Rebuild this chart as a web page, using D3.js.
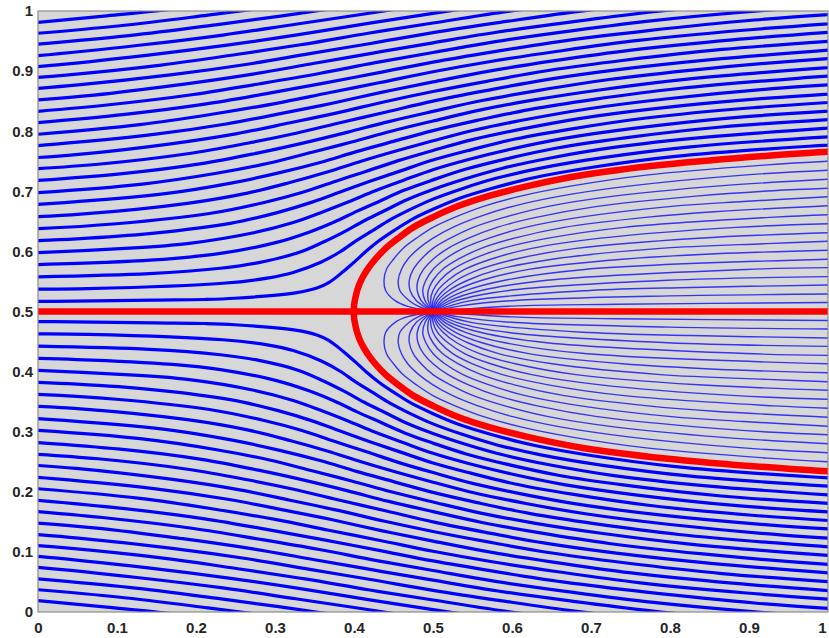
<!DOCTYPE html>
<html>
<head>
<meta charset="utf-8">
<script src="https://cdnjs.cloudflare.com/ajax/libs/d3/7.8.5/d3.min.js"></script>
<style>
body { margin: 0; background: #fff; }
.tick text { font-family: "Liberation Sans", Arial, sans-serif; font-weight: bold; font-size: 15px; fill: #262626; }
</style>
</head>
<body>
<div id="chart"></div>
<script>
// tick values and labels
var xTicks = [0, 0.1, 0.2, 0.3, 0.4, 0.5, 0.6, 0.7, 0.8, 0.9, 1];
var xTickLabels = ["0", "0.1", "0.2", "0.3", "0.4", "0.5", "0.6", "0.7", "0.8", "0.9", "1"];
var yTicks = [0, 0.1, 0.2, 0.3, 0.4, 0.5, 0.6, 0.7, 0.8, 0.9, 1];
var yTickLabels = ["0", "0.1", "0.2", "0.3", "0.4", "0.5", "0.6", "0.7", "0.8", "0.9", "1"];

// outer streamlines above y=0.5 as [x, y] points
// (the lower half of the figure is the mirror image about y=0.5)
var outerLines = [
  [[-0.065,0.974],[0.017,0.983],[0.087,0.992],[0.150,1.000],[0.206,1.009]],
  [[-0.046,0.958],[0.101,0.975],[0.215,0.993],[0.314,1.010]],
  [[-0.026,0.942],[0.115,0.959],[0.225,0.977],[0.320,0.994],[0.410,1.011]],
  [[-0.095,0.917],[-0.007,0.925],[0.128,0.943],[0.234,0.960],[0.326,0.978],[0.413,0.995],[0.500,1.013]],
  [[-0.178,0.892],[0.013,0.909],[0.142,0.927],[0.244,0.944],[0.332,0.961],[0.416,0.979],[0.500,0.996],[0.591,1.014]],
  [[-0.150,0.875],[0.032,0.893],[0.156,0.910],[0.253,0.928],[0.338,0.945],[0.418,0.963],[0.500,0.980],[0.588,0.998],[0.687,1.015]],
  [[-0.122,0.859],[0.051,0.877],[0.170,0.894],[0.263,0.911],[0.344,0.929],[0.421,0.946],[0.500,0.964],[0.585,0.981],[0.682,0.999],[0.798,1.016]],
  [[-0.094,0.843],[0.071,0.860],[0.183,0.878],[0.272,0.895],[0.350,0.913],[0.424,0.930],[0.500,0.947],[0.582,0.965],[0.676,0.982],[0.789,1.000],[0.934,1.017]],
  [[-0.065,0.826],[0.090,0.844],[0.197,0.861],[0.281,0.879],[0.356,0.896],[0.427,0.914],[0.500,0.931],[0.579,0.949],[0.670,0.966],[0.779,0.984],[0.920,1.001],[1.118,1.018]],
  [[-0.037,0.810],[0.110,0.828],[0.211,0.845],[0.291,0.863],[0.362,0.880],[0.430,0.897],[0.500,0.915],[0.576,0.932],[0.664,0.950],[0.770,0.967],[0.907,0.985],[1.098,1.002]],
  [[-0.111,0.785],[-0.009,0.794],[0.129,0.811],[0.224,0.829],[0.300,0.846],[0.368,0.864],[0.433,0.881],[0.500,0.899],[0.573,0.916],[0.658,0.933],[0.760,0.951],[0.893,0.968],[1.079,0.986]],
  [[-0.076,0.769],[0.019,0.778],[0.149,0.795],[0.238,0.812],[0.310,0.830],[0.374,0.847],[0.436,0.865],[0.500,0.882],[0.571,0.900],[0.652,0.917],[0.751,0.935],[0.879,0.952],[1.060,0.970]],
  [[-0.041,0.753],[0.048,0.761],[0.168,0.779],[0.252,0.796],[0.319,0.814],[0.380,0.831],[0.439,0.849],[0.500,0.866],[0.568,0.883],[0.646,0.901],[0.742,0.918],[0.866,0.936],[1.040,0.953]],
  [[-0.125,0.728],[0.076,0.745],[0.187,0.762],[0.265,0.780],[0.328,0.797],[0.385,0.815],[0.441,0.832],[0.500,0.850],[0.565,0.867],[0.640,0.885],[0.732,0.902],[0.852,0.919],[1.021,0.937]],
  [[-0.080,0.711],[0.104,0.729],[0.207,0.746],[0.279,0.764],[0.338,0.781],[0.391,0.798],[0.444,0.816],[0.500,0.833],[0.562,0.851],[0.634,0.868],[0.723,0.886],[0.838,0.903],[1.001,0.921],[1.113,0.929]],
  [[-0.195,0.686],[-0.035,0.695],[0.132,0.712],[0.226,0.730],[0.293,0.747],[0.347,0.765],[0.397,0.782],[0.447,0.800],[0.500,0.817],[0.559,0.835],[0.628,0.852],[0.713,0.869],[0.825,0.887],[0.982,0.904],[1.090,0.913]],
  [[-0.134,0.670],[0.009,0.679],[0.161,0.696],[0.246,0.714],[0.306,0.731],[0.357,0.748],[0.403,0.766],[0.450,0.783],[0.500,0.801],[0.556,0.818],[0.622,0.836],[0.704,0.853],[0.811,0.871],[0.962,0.888],[1.067,0.897]],
  [[-0.073,0.654],[0.054,0.662],[0.189,0.680],[0.265,0.697],[0.320,0.715],[0.366,0.732],[0.409,0.750],[0.453,0.767],[0.500,0.784],[0.553,0.802],[0.616,0.819],[0.695,0.837],[0.797,0.854],[0.943,0.872],[1.043,0.880]],
  [[-0.229,0.629],[-0.012,0.637],[0.099,0.646],[0.217,0.663],[0.285,0.681],[0.334,0.698],[0.375,0.716],[0.415,0.733],[0.456,0.751],[0.500,0.768],[0.550,0.786],[0.610,0.803],[0.685,0.821],[0.784,0.838],[0.924,0.855],[1.146,0.873]],
  [[-0.136,0.612],[0.049,0.621],[0.144,0.630],[0.245,0.647],[0.304,0.665],[0.347,0.682],[0.385,0.700],[0.421,0.717],[0.459,0.734],[0.500,0.752],[0.548,0.769],[0.604,0.787],[0.676,0.804],[0.770,0.822],[0.904,0.839],[1.118,0.857]],
  [[-0.496,0.587],[-0.044,0.596],[0.110,0.605],[0.189,0.613],[0.273,0.631],[0.323,0.648],[0.361,0.666],[0.394,0.683],[0.427,0.701],[0.462,0.718],[0.500,0.736],[0.545,0.753],[0.598,0.770],[0.666,0.788],[0.756,0.805],[0.885,0.823],[1.089,0.840]],
  [[-0.310,0.571],[0.049,0.580],[0.170,0.588],[0.233,0.597],[0.302,0.615],[0.343,0.632],[0.375,0.649],[0.404,0.667],[0.433,0.684],[0.464,0.702],[0.500,0.719],[0.542,0.737],[0.593,0.754],[0.657,0.772],[0.743,0.789],[0.865,0.807],[1.061,0.824]],
  [[-0.124,0.555],[0.141,0.563],[0.231,0.572],[0.278,0.581],[0.330,0.598],[0.362,0.616],[0.388,0.633],[0.413,0.651],[0.439,0.668],[0.467,0.686],[0.500,0.703],[0.539,0.720],[0.587,0.738],[0.647,0.755],[0.729,0.773],[0.846,0.790],[1.033,0.808]],
  [[-0.446,0.533],[-0.022,0.537],[0.063,0.538],[0.234,0.547],[0.292,0.556],[0.323,0.565],[0.358,0.582],[0.382,0.599],[0.402,0.617],[0.423,0.634],[0.445,0.652],[0.470,0.669],[0.500,0.687],[0.536,0.704],[0.581,0.722],[0.638,0.739],[0.715,0.756],[0.826,0.774],[1.005,0.791],[1.144,0.800]],
  [[-0.359,0.515],[0.021,0.517],[0.147,0.519],[0.211,0.520],[0.249,0.522],[0.326,0.531],[0.353,0.539],[0.368,0.548],[0.386,0.566],[0.401,0.583],[0.416,0.601],[0.432,0.618],[0.451,0.635],[0.473,0.653],[0.500,0.670],[0.533,0.688],[0.575,0.705],[0.629,0.723],[0.702,0.740],[0.807,0.758],[0.976,0.775],[1.109,0.784]]
];

// thin streamlines leaving the source point (0.5, 0.5), upper half
var innerLines = [
  [[0.5,0.5],[0.600,0.509],[0.733,0.512],[1.000,0.515]],
  [[0.5,0.5],[0.533,0.509],[0.599,0.518],[0.799,0.526],[1.000,0.529]],
  [[0.5,0.5],[0.548,0.518],[0.698,0.535],[0.827,0.540],[1.000,0.544]],
  [[0.5,0.5],[0.530,0.518],[0.596,0.535],[0.797,0.552],[1.000,0.558]],
  [[0.5,0.5],[0.521,0.518],[0.561,0.535],[0.644,0.552],[0.896,0.570],[1.000,0.573]],
  [[0.5,0.5],[0.515,0.518],[0.542,0.535],[0.591,0.552],[0.692,0.570],[1.000,0.587]],
  [[0.5,0.5],[0.510,0.518],[0.529,0.535],[0.562,0.552],[0.621,0.570],[0.740,0.587],[0.858,0.596],[1.000,0.602]],
  [[0.5,0.5],[0.506,0.518],[0.520,0.535],[0.544,0.552],[0.583,0.570],[0.651,0.587],[0.788,0.605],[0.923,0.613],[1.000,0.617]],
  [[0.5,0.5],[0.503,0.518],[0.513,0.535],[0.530,0.552],[0.559,0.570],[0.604,0.587],[0.681,0.605],[0.836,0.622],[1.000,0.631]],
  [[0.5,0.5],[0.500,0.518],[0.506,0.535],[0.519,0.552],[0.540,0.570],[0.573,0.587],[0.625,0.605],[0.712,0.622],[0.884,0.640],[1.000,0.646]],
  [[0.5,0.5],[0.497,0.518],[0.500,0.535],[0.509,0.552],[0.525,0.570],[0.550,0.587],[0.588,0.605],[0.646,0.622],[0.742,0.640],[0.932,0.657],[1.000,0.661]],
  [[0.5,0.5],[0.494,0.518],[0.494,0.535],[0.500,0.552],[0.512,0.570],[0.532,0.587],[0.561,0.605],[0.603,0.622],[0.666,0.640],[0.772,0.657],[0.856,0.666],[1.000,0.676]],
  [[0.5,0.5],[0.490,0.518],[0.487,0.535],[0.491,0.552],[0.500,0.570],[0.515,0.587],[0.538,0.605],[0.571,0.622],[0.617,0.640],[0.687,0.657],[0.802,0.675],[0.893,0.683],[1.000,0.691]],
  [[0.5,0.5],[0.485,0.518],[0.480,0.535],[0.481,0.552],[0.488,0.570],[0.500,0.587],[0.519,0.605],[0.545,0.622],[0.581,0.640],[0.632,0.657],[0.708,0.675],[0.833,0.692],[0.930,0.701],[1.000,0.705]],
  [[0.5,0.5],[0.479,0.518],[0.471,0.535],[0.470,0.552],[0.475,0.570],[0.485,0.587],[0.500,0.605],[0.522,0.622],[0.551,0.640],[0.591,0.657],[0.646,0.675],[0.729,0.692],[0.863,0.709],[1.000,0.720]],
  [[0.5,0.5],[0.481,0.509],[0.470,0.518],[0.458,0.535],[0.456,0.552],[0.460,0.570],[0.468,0.587],[0.482,0.605],[0.500,0.622],[0.525,0.640],[0.557,0.657],[0.601,0.675],[0.661,0.692],[0.750,0.709],[0.893,0.727],[1.000,0.735]],
  [[0.5,0.5],[0.467,0.509],[0.452,0.518],[0.440,0.535],[0.438,0.552],[0.441,0.570],[0.450,0.587],[0.462,0.605],[0.479,0.622],[0.500,0.640],[0.528,0.657],[0.564,0.675],[0.611,0.692],[0.676,0.709],[0.770,0.727],[0.923,0.744],[1.000,0.750]]
];

// red dividing streamline (upper branch) and the red centre line
var dividingLine = [[0.400,0.500],[0.400,0.509],[0.401,0.518],[0.404,0.535],[0.409,0.552],[0.417,0.570],[0.427,0.587],[0.440,0.605],[0.456,0.622],[0.475,0.640],[0.500,0.657],[0.531,0.675],[0.570,0.692],[0.621,0.709],[0.690,0.727],[0.791,0.744],[0.954,0.762],[1.080,0.771]];
var centreLine = [[0, 0.5], [1, 0.5]];

// set the dimensions and margins of the graph
var margin = {top: 11, right: 1, bottom: 26, left: 38},
    width = 829 - margin.left - margin.right,
    height = 638 - margin.top - margin.bottom;

var x = d3.scaleLinear().domain([0, 1]).range([0, width]);
var y = d3.scaleLinear().domain([0, 1]).range([height, 0]);
// mirror scale for the lower half (value v drawn at 1 - v)
var yMirror = d3.scaleLinear().domain([0, 1]).range([0, height]);

var svg = d3.select("#chart").append("svg")
    .attr("width", 829)
    .attr("height", 638)
  .append("g")
    .attr("transform", "translate(" + margin.left + "," + margin.top + ")");

svg.append("clipPath").attr("id", "plotclip")
  .append("rect").attr("width", width).attr("height", height);

svg.append("rect")
    .attr("width", width)
    .attr("height", height)
    .style("fill", "#d7d7d7");

var lineUp = d3.line()
    .x(function(d) { return x(d[0]); })
    .y(function(d) { return y(d[1]); })
    .curve(d3.curveCatmullRom.alpha(0.5));
var lineDown = d3.line()
    .x(function(d) { return x(d[0]); })
    .y(function(d) { return yMirror(d[1]); })
    .curve(d3.curveCatmullRom.alpha(0.5));

var plot = svg.append("g").attr("clip-path", "url(#plotclip)");

// thin lines from the source
[lineUp, lineDown].forEach(function(ln) {
  plot.append("g").selectAll("path")
      .data(innerLines)
      .enter().append("path")
      .attr("d", ln)
      .style("fill", "none")
      .style("stroke", "#2222f5")
      .style("stroke-width", 1.4)
      .style("stroke-opacity", 0.9);
});

// thick outer lines
[lineUp, lineDown].forEach(function(ln) {
  plot.append("g").selectAll("path")
      .data(outerLines)
      .enter().append("path")
      .attr("d", ln)
      .style("fill", "none")
      .style("stroke", "#0000ff")
      .style("stroke-width", 3.2)
      .style("stroke-linecap", "round");
});

// red lines
plot.append("path")
    .datum(centreLine)
    .attr("d", lineUp)
    .style("fill", "none")
    .style("stroke", "#ff0000")
    .style("stroke-width", 6.5);

[lineUp, lineDown].forEach(function(ln) {
  plot.append("path")
      .datum(dividingLine)
      .attr("d", ln)
      .style("fill", "none")
      .style("stroke", "#ff0000")
      .style("stroke-width", 6.5)
      .style("stroke-linecap", "round");
});

// frame
svg.append("rect")
    .attr("width", width)
    .attr("height", height)
    .style("fill", "none")
    .style("stroke", "#8c8c8c")
    .style("stroke-width", 1.2);

// axes
var xAxis = svg.append("g")
    .attr("transform", "translate(0," + height + ")")
    .call(d3.axisBottom(x).tickValues(xTicks).tickSize(0).tickPadding(10)
      .tickFormat(function(d, i) { return xTickLabels[i]; }));
xAxis.select(".domain").remove();
// keep the last label inside the window
xAxis.selectAll(".tick text")
    .filter(function(d) { return d === 1; })
    .attr("text-anchor", "end")
    .attr("dx", "-2px");

var yAxis = svg.append("g")
    .call(d3.axisLeft(y).tickValues(yTicks).tickSize(0).tickPadding(5)
      .tickFormat(function(d, i) { return yTickLabels[i]; }));
yAxis.select(".domain").remove();
</script>
</body>
</html>
